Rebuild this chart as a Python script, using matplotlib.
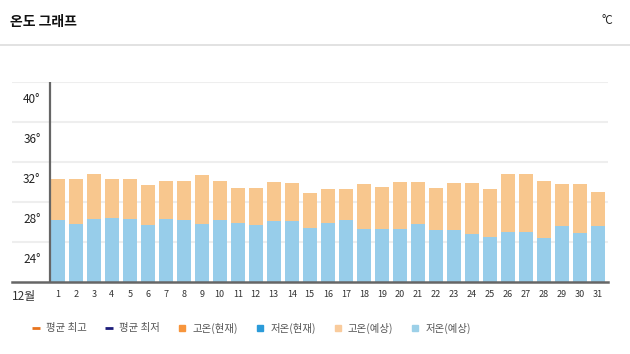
import matplotlib
matplotlib.use("Agg")
import matplotlib.pyplot as plt
from matplotlib.lines import Line2D
from matplotlib.transforms import ScaledTranslation
import numpy as np

plt.rcParams['font.family'] = ['Noto Sans CJK KR', 'DejaVu Sans']

# December daily temperatures (°C)
days = list(range(1, 32))
high_forecast = [30.3, 30.3, 30.8, 30.3, 30.3, 29.7, 30.1, 30.1, 30.7, 30.1,
                 29.4, 29.4, 30.0, 29.9, 28.9, 29.3, 29.3, 29.8, 29.5, 30.0,
                 30.0, 29.4, 29.9, 29.9, 29.3, 30.8, 30.8, 30.1, 29.8, 29.8, 29.0]
low_forecast = [26.2, 25.8, 26.3, 26.4, 26.3, 25.7, 26.3, 26.2, 25.8, 26.2,
                25.9, 25.7, 26.1, 26.1, 25.4, 25.9, 26.2, 25.3, 25.3, 25.3,
                25.8, 25.2, 25.2, 24.8, 24.5, 25.0, 25.0, 24.4, 25.6, 24.9, 25.6]
y_ticks = [24, 28, 32, 36, 40]
month_label = '12월'
legend_labels = ['평균 최고', '평균 최저', '고온(현재)', '저온(현재)', '고온(예상)', '저온(예상)']

c_high = '#f8c78e'
c_low = '#97cdea'
y_base = 20

fig = plt.figure(figsize=(6.3, 3.54), dpi=100)

# header
fig.text(10/630, 1 - 22/354, '온도 그래프', fontsize=10, fontweight='bold',
         va='center', ha='left', color='#111111')
fig.text(613/630, 1 - 20/354, '°C', fontsize=8.5, va='center', ha='right', color='#222222')
fig.add_artist(Line2D([0, 1], [1 - 45/354, 1 - 45/354], color='#dddddd', lw=1.2,
                      transform=fig.transFigure))

ax = fig.add_axes([12/630, 72.3/354, 596/630, 200/354])

x = np.array(days)
ax.bar(x, np.array(high_forecast) - y_base, bottom=y_base, width=0.78, color=c_high, zorder=2)
ax.bar(x, np.array(low_forecast) - y_base, bottom=y_base, width=0.78, color=c_low, zorder=3)

ax.set_xlim(-1.544, 31.57)
ax.set_ylim(y_base, 40)

# y axis line left of the first bar
ax.axvline(0.567, color='#666666', lw=1.6, zorder=4)

ax.set_yticks(y_ticks)
ax.set_yticklabels([f'{t}°' for t in y_ticks])
ax.tick_params(axis='y', length=0, pad=-20.5, labelsize=8.5, labelcolor='#222222')
offset = ScaledTranslation(0, -0.165, fig.dpi_scale_trans)
for lbl in ax.get_yticklabels():
    lbl.set_transform(lbl.get_transform() + offset)
    lbl.set_horizontalalignment('right')

ax.set_xticks([-0.88] + days)
ax.set_xticklabels([month_label] + [str(d) for d in days])
ax.tick_params(axis='x', length=0, pad=6, labelsize=6.5, labelcolor='#333333')
ax.get_xticklabels()[0].set_fontsize(8.5)

ax.grid(axis='y', color='#eeeeee', lw=1.5, zorder=0)
ax.set_axisbelow(True)
for s in ['top', 'right', 'left']:
    ax.spines[s].set_visible(False)
ax.spines['bottom'].set_color('#666666')
ax.spines['bottom'].set_linewidth(1.8)
ax.spines['bottom'].set_zorder(5)

# legend
handles = [
    Line2D([], [], marker='_', color='#e8741e', ls='none', markersize=6, markeredgewidth=2),
    Line2D([], [], marker='_', color='#1c1c7a', ls='none', markersize=6, markeredgewidth=2),
    Line2D([], [], marker='s', color='#f7953c', ls='none', markersize=4.5),
    Line2D([], [], marker='s', color='#2b9bd9', ls='none', markersize=4.5),
    Line2D([], [], marker='s', color='#f9cb9c', ls='none', markersize=4.5),
    Line2D([], [], marker='s', color='#9cd0e8', ls='none', markersize=4.5),
]
fig.legend(handles, legend_labels, loc='center', bbox_to_anchor=(0.399, 1 - 328/354),
           ncol=6, frameon=False, fontsize=7.5, labelcolor='#555555',
           handlelength=0.8, handletextpad=0.6, columnspacing=1.7)

fig.savefig('out.png', dpi=100)
